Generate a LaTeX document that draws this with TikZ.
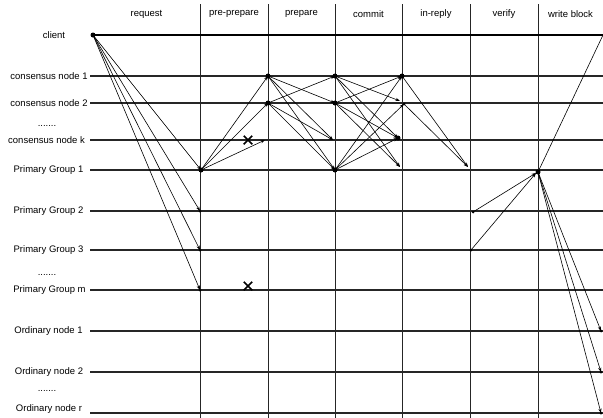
\documentclass[tikz,border=0pt]{standalone}
\usepackage{fontspec}
\setmainfont{Liberation Sans}
\usetikzlibrary{arrows.meta,shapes.misc}
\begin{document}
\begin{tikzpicture}[x=1pt,y=-1pt,
  lbl/.style={font=\fontsize{9.5}{11}\selectfont, inner sep=0pt},
  hline/.style={line width=1.1pt, black!85},
  cline/.style={line width=2.6pt, black},
  vline/.style={line width=0.8pt, black!85},
  msg/.style={line width=0.6pt, -{Stealth[length=4.5pt,width=3.2pt]}},
  plain/.style={line width=0.6pt},
  bigdot/.style={circle, fill, inner sep=0pt, minimum size=5pt},
  smalldot/.style={circle, fill, inner sep=0pt, minimum size=3pt},
  xmark/.style={cross out, draw, line width=1.5pt, minimum size=7pt, inner sep=0pt}]
\useasboundingbox (0,0) rectangle (603,418);

% column separators
\foreach \x/\n in {200/a,268/b,335/c,402/d,470/e,538/f}{
  \coordinate (vt\n) at (\x,4);
  \coordinate (vb\n) at (\x,418);
  \draw[vline] (vt\n) -- (vb\n);
}

% phase headers
\node[lbl] (hreq) at (146.5,14) {request};
\node[lbl] (hpp)  at (234,14) {pre-prepare};
\node[lbl] (hpr)  at (301.5,14) {prepare};
\node[lbl] (hcm)  at (368.5,14) {commit};
\node[lbl] (hir)  at (436,14) {in-reply};
\node[lbl] (hvf)  at (504,14) {verify};
\node[lbl] (hwb)  at (570.5,14) {write block};

% row labels
\node[lbl] (lcl) at (54,35) {client};
\node[lbl] (lc1) at (49,76) {consensus node 1};
\node[lbl] (lc2) at (49,103) {consensus node 2};
\node[lbl,anchor=base] (ld1) at (47,126.5) {.......};
\node[lbl] (lck) at (46.5,140) {consensus node k};
\node[lbl] (lp1) at (48.5,170) {Primary Group 1};
\node[lbl] (lp2) at (48.5,211) {Primary Group 2};
\node[lbl] (lp3) at (48.5,250) {Primary Group 3};
\node[lbl,anchor=base] (ld2) at (47,275) {.......};
\node[lbl] (lpm) at (49.5,290) {Primary Group m};
\node[lbl] (lo1) at (48.5,331) {Ordinary node 1};
\node[lbl] (lo2) at (49,372) {Ordinary node 2};
\node[lbl,anchor=base] (ld3) at (47,391.5) {.......};
\node[lbl] (lor) at (49,409) {Ordinary node r};

% row lines
\coordinate (cl) at (93,35);
\coordinate (clE) at (603,35);
\draw[cline] (cl) -- (clE);
\foreach \y/\n in {76/c1,103/c2,140/ck,170/p1,211/p2,250/p3,290/pm,331/o1,372/o2,413/or}{
  \coordinate (s\n) at (90,\y);
  \coordinate (e\n) at (603,\y);
  \draw[hline] (s\n) -- (e\n);
}

% event points
\coordinate (pp) at (201,170);
\coordinate (q2) at (200,211);
\coordinate (q3) at (200,250);
\coordinate (qm) at (200,290);
\coordinate (c1a) at (268,76);
\coordinate (c2a) at (268,103);
\coordinate (cka) at (265,140);
\coordinate (c1b) at (335,76);
\coordinate (c2b) at (335,103);
\coordinate (ckb) at (333,140);
\coordinate (p1b) at (335,170);
\coordinate (c1c) at (402,76);
\coordinate (c2x) at (400,101);
\coordinate (c2c) at (404,104);
\coordinate (ckc) at (398,138);
\coordinate (p1c) at (400,167);
\coordinate (p1d) at (468,167);
\coordinate (v2) at (473,212);
\coordinate (v3) at (471,250);
\coordinate (vd) at (538,172);
\coordinate (va) at (536,173);
\coordinate (w1) at (601,331);
\coordinate (w2) at (601,372);
\coordinate (wr) at (601,413);

% request
\draw[msg] (cl) -- (pp);
\draw[msg] (cl) -- (q2);
\draw[msg] (cl) -- (q3);
\draw[msg] (cl) -- (qm);
% pre-prepare
\draw[msg] (pp) -- (c1a);
\draw[msg] (pp) -- (c2a);
\draw[msg] (pp) -- (cka);
% prepare
\draw[msg] (c1a) -- (c2b);
\draw[msg] (c1a) -- (ckb);
\draw[msg] (c1a) -- (p1b);
\draw[msg] (c2a) -- (c1b);
\draw[msg] (c2a) -- (ckb);
\draw[msg] (c2a) -- (p1b);
% commit
\draw[msg] (c1b) -- (c2x);
\draw[msg] (c1b) -- (ckc);
\draw[msg] (c1b) -- (p1c);
\draw[msg] (c2b) -- (c1c);
\draw[msg] (c2b) -- (ckc);
\draw[msg] (c2b) -- (p1c);
\draw[msg] (p1b) -- (c1c);
\draw[msg] (p1b) -- (c2c);
\draw[msg] (p1b) -- (ckc);
% in-reply
\draw[msg] (c1c) -- (p1d);
\draw[msg] (c2c) -- (p1d);
% verify
\draw[msg] (v2) -- (va);
\draw[msg] (v3) -- (va);
% write block
\draw[plain] (vd) -- (clE);
\draw[msg] (vd) -- (w1);
\draw[msg] (vd) -- (w2);
\draw[msg] (vd) -- (wr);

% dots
\node[bigdot] (dcl) at (cl) {};
\node[bigdot] (dpp) at (pp) {};
\node[smalldot] (dq2) at (q2) {};
\node[smalldot] (dq3) at (q3) {};
\node[smalldot] (dqm) at (qm) {};
\node[bigdot] (dc1a) at (c1a) {};
\node[bigdot] (dc2a) at (c2a) {};
\node[bigdot] (dc1b) at (c1b) {};
\node[bigdot] (dc2b) at (c2b) {};
\node[bigdot] (dp1b) at (p1b) {};
\node[bigdot] (dc1c) at (c1c) {};
\node[smalldot] (dc2c) at (c2c) {};
\node[bigdot] (dckc) at (ckc) {};
\node[smalldot] (dv2) at (v2) {};
\node[smalldot] (dv3) at (v3) {};
\node[bigdot] (dvd) at (vd) {};
\node[smalldot] (dw1) at (w1) {};
\node[smalldot] (dw2) at (w2) {};
\node[smalldot] (dwr) at (wr) {};

% failures
\node[xmark] (xk) at (248,140) {};
\node[xmark] (xm) at (248,286) {};
\end{tikzpicture}
\end{document}
